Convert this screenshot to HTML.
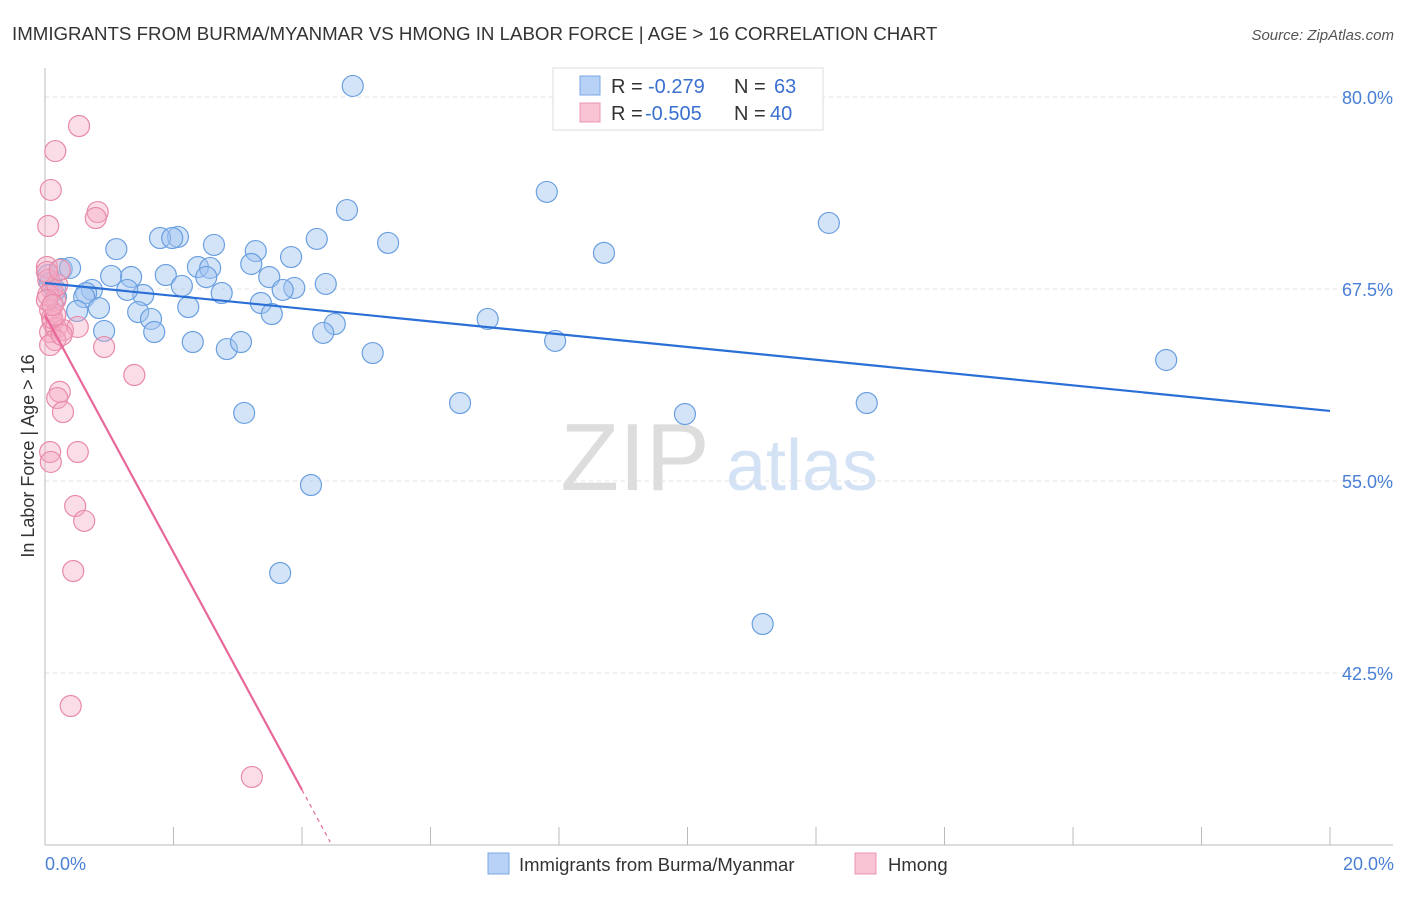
<!DOCTYPE html>
<html><head><meta charset="utf-8"><style>
body{margin:0;background:#fff;font-family:"Liberation Sans",sans-serif}
svg text{font-family:"Liberation Sans",sans-serif}
</style></head><body>
<svg id="chart" width="1406" height="892">
<text x="12" y="40" font-size="18.7" fill="#333">IMMIGRANTS FROM BURMA/MYANMAR VS HMONG IN LABOR FORCE | AGE &gt; 16 CORRELATION CHART</text>
<text x="1394" y="40" font-size="15" fill="#555" font-style="italic" text-anchor="end">Source: ZipAtlas.com</text>
<g>
<text x="635" y="490" font-size="96" fill="#ddd" font-family="Liberation Serif,serif" text-anchor="middle">ZIP</text>
<text x="802" y="490" font-size="72" fill="#d4e2f5" text-anchor="middle">atlas</text>
</g>
<g id="grid"></g><g id="axes"></g><g id="pts"></g><g id="trends"></g>
<text transform="translate(34,456) rotate(-90)" font-size="18" fill="#333" text-anchor="middle">In Labor Force | Age &gt; 16</text>
<text x="45" y="870" font-size="18" fill="#4a7fd6">0.0%</text>
<text x="1394" y="870" font-size="18" fill="#4a7fd6" text-anchor="end">20.0%</text>
<g>
<rect x="488" y="853" width="21" height="21" fill="#b8d2f5" stroke="#7aa8e6"/>
<text x="519" y="871" font-size="18.5" fill="#333">Immigrants from Burma/Myanmar</text>
<rect x="855" y="853" width="21" height="21" fill="#f8c4d4" stroke="#ec94b0"/>
<text x="888" y="871" font-size="18.5" fill="#333">Hmong</text>
</g>
<g>
<rect x="553" y="68" width="270" height="62" fill="#fff" stroke="#ddd"/>
<rect x="580" y="76" width="20" height="19" fill="#b8d2f5" stroke="#7aa8e6"/>
<rect x="580" y="103" width="20" height="19" fill="#f8c4d4" stroke="#ec94b0"/>
<text x="611" y="93" font-size="20" fill="#333">R = <tspan x="648" fill="#3a70d0">-0.279</tspan><tspan x="734">N = </tspan><tspan x="774" fill="#3a70d0">63</tspan></text>
<text x="611" y="120" font-size="20" fill="#333">R = <tspan x="645" fill="#3a70d0">-0.505</tspan><tspan x="734">N = </tspan><tspan x="770" fill="#3a70d0">40</tspan></text>
</g>
</svg>
<script>
const yTicks=[80,67.5,55,42.5];
const yTickLabels=["80.0%","67.5%","55.0%","42.5%"];
const xTicks=[0,2,4,6,8,10,12,14,16,18,20];
const burmaX=[4.79,7.81,12.20,4.70,5.34,8.70,4.23,3.83,3.28,2.63,2.07,1.79,1.98,1.11,0.26,0.39,1.03,1.34,1.88,2.38,2.57,2.51,3.21,3.49,3.88,3.70,4.37,2.75,2.13,2.23,1.53,1.28,0.73,0.64,0.61,0.17,0.84,0.50,1.45,1.65,1.70,0.92,2.30,2.83,3.05,3.36,3.53,4.51,4.33,5.10,6.89,7.94,6.46,9.96,12.79,17.45,3.10,4.14,3.66,11.17,0.08,0.16,0.05];
const burmaY=[80.72,73.82,71.80,72.64,70.50,69.85,70.76,69.58,69.97,70.37,70.89,70.82,70.82,70.10,68.80,68.87,68.35,68.28,68.41,68.93,68.87,68.28,69.13,68.28,67.57,67.44,67.83,67.24,67.70,66.33,67.11,67.44,67.44,67.24,66.98,66.98,66.26,66.07,66.00,65.55,64.70,64.77,64.05,63.59,64.05,66.59,65.87,65.22,64.64,63.33,65.55,64.12,60.08,59.36,60.08,62.88,59.43,54.74,49.01,45.69,67.89,67.44,68.41];
const hmongX=[0.53,0.16,0.09,0.05,0.82,0.79,0.03,0.05,0.11,0.16,0.08,0.12,0.08,0.17,0.28,0.51,0.16,0.92,1.39,0.23,0.19,0.28,0.08,0.09,0.51,0.47,0.61,0.44,0.40,3.22,0.05,0.11,0.19,0.03,0.23,0.16,0.08,0.26,0.03,0.12];
const hmongY=[78.11,76.48,73.95,71.60,72.51,72.12,68.93,68.09,67.44,66.78,66.13,65.35,64.70,64.96,64.83,65.03,64.18,63.72,61.90,60.80,60.40,59.49,56.89,56.24,56.89,53.37,52.40,49.14,40.35,35.73,67.11,65.61,67.76,68.61,68.74,65.81,63.85,64.51,66.78,66.46];
const burmaTrend=[67.89,59.56];
const hmongTrend=[65.81,-7.73];
const NS="http://www.w3.org/2000/svg";
const X=v=>45+v/20*1285;
const Y=v=>97+(80-v)*15.36;
function mk(parent,tag,attrs){const e=document.createElementNS(NS,tag);for(const k in attrs)e.setAttribute(k,attrs[k]);document.getElementById(parent).appendChild(e);return e;}
yTicks.forEach((t,i)=>{
 const l=mk('grid','line',{x1:45,x2:1393,y1:Y(t),y2:Y(t),stroke:'#e3e3e3','stroke-dasharray':'4,4'});
 
 
 const tx=mk('grid','text',{x:1393,y:Y(t)+7,'font-size':18,fill:'#4a7fd6','text-anchor':'end'});
 tx.textContent=yTickLabels[i];
 
 
});
let a=mk('axes','line',{x1:45,x2:45,y1:68,y2:845,stroke:'#bbb'});


a=mk('axes','line',{x1:45,x2:1393,y1:845,y2:845,stroke:'#bbb'});


xTicks.forEach(t=>{
 const l=mk('axes','line',{x1:X(t),x2:X(t),y1:827,y2:845,stroke:'#bbb'});
 
 
});
burmaX.forEach((x,i)=>{
 const c=mk('pts','circle',{cx:X(x),cy:Y(burmaY[i]),r:10.5,fill:'rgba(160,195,240,0.45)',stroke:'#6a9fe0','stroke-width':1.2});
 
 
});
hmongX.forEach((x,i)=>{
 const c=mk('pts','circle',{cx:X(x),cy:Y(hmongY[i]),r:10.5,fill:'rgba(245,170,195,0.4)',stroke:'#e88aa8','stroke-width':1.2});
 
 
});
let t=mk('trends','line',{x1:X(0),y1:Y(burmaTrend[0]),x2:X(20),y2:Y(burmaTrend[1]),stroke:'#2a6fd6','stroke-width':2.2});


const hy=x=>hmongTrend[0]+hmongTrend[1]*x;
t=mk('trends','line',{x1:X(0),y1:Y(hy(0)),x2:X(4),y2:Y(hy(4)),stroke:'#e8679a','stroke-width':2.2});


t=mk('trends','line',{x1:X(4),y1:Y(hy(4)),x2:X(4.44),y2:Y(hy(4.44)),stroke:'#e8679a','stroke-width':1.2,'stroke-dasharray':'4,4'});


</script>
</body></html>
